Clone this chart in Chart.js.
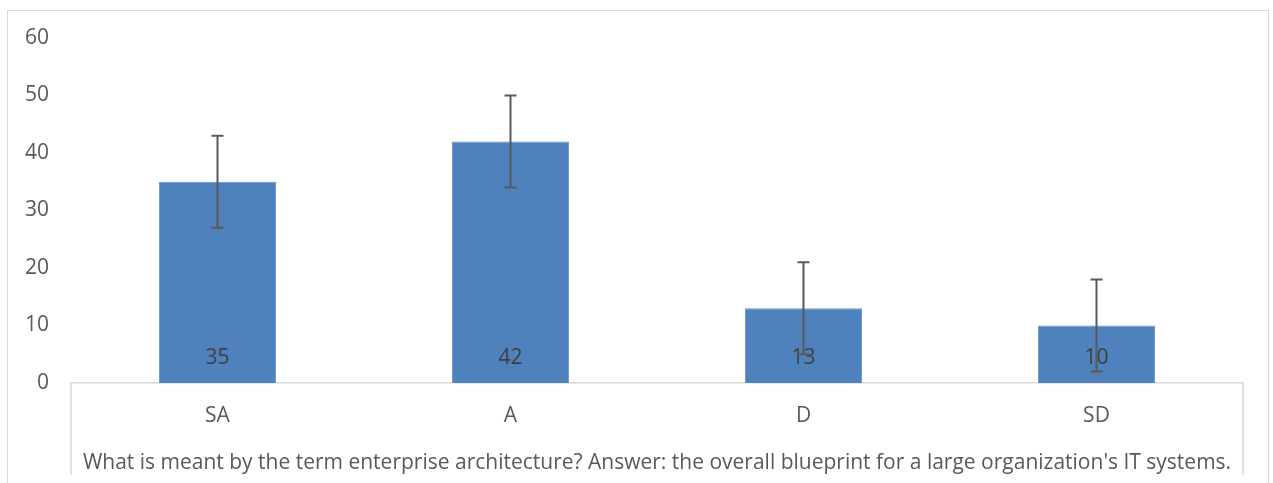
<!DOCTYPE html>
<html>
<head>
<meta charset="utf-8">
<script src="https://cdn.jsdelivr.net/npm/chart.js@4"></script>
<style>
  body { margin: 0; background: #fff; }
  #wrap { position: relative; width: 1273px; height: 483px; }
  #frame { position: absolute; left: 7px; top: 10px; width: 1262px; height: 480px; border: 1.5px solid #d9d9d9; box-sizing: border-box; }
  canvas { position: absolute; left: 0; top: 0; }
</style>
</head>
<body>
<div id="wrap">
  <div id="frame"></div>
  <canvas id="chart" width="1273" height="483"></canvas>
</div>
<script>
const categories = ['SA', 'A', 'D', 'SD'];
const values = [35, 42, 13, 10];
const errors = [8, 8, 8, 8];
const yTicks = [0, 10, 20, 30, 40, 50, 60];
const axisTitle = "What is meant by the term enterprise architecture? Answer: the overall blueprint for a large organization's IT systems.";

const FONT = "'Open Sans', 'Liberation Sans', sans-serif";

// error bars, value labels and the little table lines under the axis
const extras = {
    id: 'extras',
    afterDatasetsDraw(chart) {
        const ctx = chart.ctx;
        const meta = chart.getDatasetMeta(0);
        const y = chart.scales.y;
        const area = chart.chartArea;

        ctx.save();
        meta.data.forEach((bar, i) => {
            // labels first, error bars are drawn over them
            ctx.fillStyle = '#404040';
            ctx.font = '21px ' + FONT;
            ctx.textAlign = 'center';
            ctx.textBaseline = 'middle';
            ctx.fillText(String(values[i]), bar.x, y.getPixelForValue(0) - 25);
        });
        ctx.strokeStyle = '#595959';
        ctx.lineWidth = 2;
        meta.data.forEach((bar, i) => {
            const top = y.getPixelForValue(values[i] + errors[i]);
            const bot = y.getPixelForValue(values[i] - errors[i]);
            ctx.beginPath();
            ctx.moveTo(bar.x, top);
            ctx.lineTo(bar.x, bot);
            ctx.moveTo(bar.x - 6, top);
            ctx.lineTo(bar.x + 6, top);
            ctx.moveTo(bar.x - 6, bot);
            ctx.lineTo(bar.x + 6, bot);
            ctx.stroke();
        });

        ctx.strokeStyle = '#d9d9d9';
        ctx.lineWidth = 1.5;
        ctx.beginPath();
        ctx.moveTo(area.left, area.bottom);
        ctx.lineTo(area.left, area.bottom + 92);
        ctx.moveTo(area.right, area.bottom);
        ctx.lineTo(area.right, area.bottom + 92);
        ctx.stroke();
        ctx.restore();
    }
};

new Chart(document.getElementById('chart'), {
    type: 'bar',
    data: {
        labels: categories,
        datasets: [{
            data: values,
            backgroundColor: '#4f81bd',
            borderColor: '#6a93c8',
            borderWidth: 1,
            categoryPercentage: 1,
            barPercentage: 0.4
        }]
    },
    options: {
        responsive: false,
        animation: false,
        layout: { padding: { top: 38, right: 30, left: 0, bottom: 0 } },
        plugins: { legend: { display: false }, tooltip: { enabled: false } },
        scales: {
            x: {
                grid: { display: false, drawTicks: false },
                border: { display: true, color: '#d9d9d9', width: 1.5 },
                ticks: { color: '#595959', font: { family: FONT, size: 21 }, padding: 20 },
                title: {
                    display: true,
                    text: axisTitle,
                    color: '#595959',
                    font: { family: FONT, size: 21 },
                    padding: { top: 0, bottom: 7 }
                },
                afterFit(scale) { scale.height = 100; }
            },
            y: {
                min: 0,
                max: 60,
                afterBuildTicks(scale) { scale.ticks = yTicks.map(v => ({ value: v })); },
                grid: { display: false, drawTicks: false },
                border: { display: false },
                ticks: { color: '#595959', font: { family: FONT, size: 21 }, padding: 22 },
                afterFit(scale) { scale.width = 71; }
            }
        }
    },
    plugins: [extras]
});
</script>
</body>
</html>
